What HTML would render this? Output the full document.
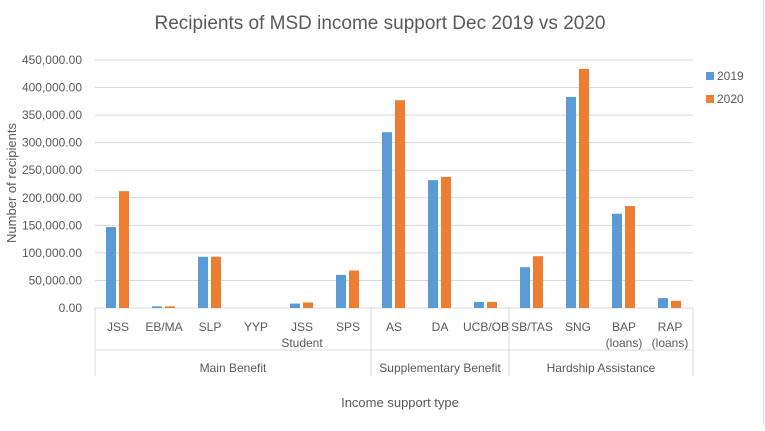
<!DOCTYPE html>
<html><head><meta charset="utf-8"><style>
body{margin:0;background:#fff}
svg text{font-family:"Liberation Sans",sans-serif;fill:#595959}
</style></head><body>
<svg width="765" height="426" viewBox="0 0 765 426" xmlns="http://www.w3.org/2000/svg">
<line x1="763.5" y1="0" x2="763.5" y2="426" stroke="#d9d9d9"/>
<text x="380" y="29" font-size="19" text-anchor="middle">Recipients of MSD income support Dec 2019 vs 2020</text>
<text transform="translate(16,183) rotate(-90)" font-size="13" text-anchor="middle">Number of recipients</text>
<text x="400" y="407" font-size="13" text-anchor="middle">Income support type</text>
<g id="grid"></g><g id="bars"></g><g id="xaxis"></g>
<rect x="706" y="72" width="8" height="8" fill="#5b9bd5"/>
<text x="717" y="80" font-size="12">2019</text>
<rect x="706" y="95" width="8" height="8" fill="#ed7d31"/>
<text x="717" y="103" font-size="12">2020</text>
</svg>
<script>
const categories=[["JSS"],["EB/MA"],["SLP"],["YYP"],["JSS","Student"],["SPS"],["AS"],["DA"],["UCB/OB"],["SB/TAS"],["SNG"],["BAP","(loans)"],["RAP","(loans)"]];
const groups=["Main Benefit","Supplementary Benefit","Hardship Assistance"];
const groupSizes=[6,3,4];
const values2019=[147000,3000,93000,0,8000,60000,319000,232000,11000,74000,383000,171000,18000];
const values2020=[212000,3000,93000,0,10000,68000,377000,238000,11000,94000,434000,185000,13000];
const yTicks=[0,50000,100000,150000,200000,250000,300000,350000,400000,450000];
const ns="http://www.w3.org/2000/svg";
const X0=95,X1=693,Y0=308,Y1=60,YMAX=450000;
const cw=(X1-X0)/categories.length;
const y=v=>Y0-(v/YMAX)*(Y0-Y1);
function mk(t,a,p){const e=document.createElementNS(ns,t);for(const k in a)e.setAttribute(k,a[k]);p.appendChild(e);return e;}
const grid=document.getElementById('grid'),bars=document.getElementById('bars'),xa=document.getElementById('xaxis');
yTicks.forEach(t=>{
 const l=mk('line',{x1:X0,x2:X1,y1:y(t),y2:y(t),stroke:'#d9d9d9','stroke-width':1},grid);
 
 
 const tx=mk('text',{x:82,y:y(t)+4,'font-size':12,'text-anchor':'end'},grid);
 tx.textContent=t.toLocaleString('en-US',{minimumFractionDigits:2});
 
 
});
categories.forEach((c,i)=>{
 const cx=X0+cw*(i+0.5);
 [[values2019[i],'#5b9bd5',-12],[values2020[i],'#ed7d31',1]].forEach(([v,col,off],s)=>{
  const r=mk('rect',{x:cx+off,y:y(v),width:10,height:Y0-y(v),fill:col},bars);
  
  
 });
 c.forEach((ln,k)=>{
  const t=mk('text',{x:cx,y:331+k*16,'font-size':12,'text-anchor':'middle'},xa);
  t.textContent=ln;
  
  
 });
});
let idx=0;
const b0=mk('line',{x1:X0,x2:X0,y1:Y0,y2:376,stroke:'#d9d9d9'},xa);


const hl=mk('line',{x1:X0,x2:X1,y1:350,y2:350,stroke:'#d9d9d9'},xa);


groups.forEach((g,gi)=>{
 const s=X0+cw*idx; idx+=groupSizes[gi]; const e=X0+cw*idx;
 const l=mk('line',{x1:e,x2:e,y1:Y0,y2:376,stroke:'#d9d9d9'},xa);
 
 
 const t=mk('text',{x:(s+e)/2,y:372,'font-size':12,'text-anchor':'middle'},xa);
 t.textContent=g;
 
 
});
</script>
</body></html>
